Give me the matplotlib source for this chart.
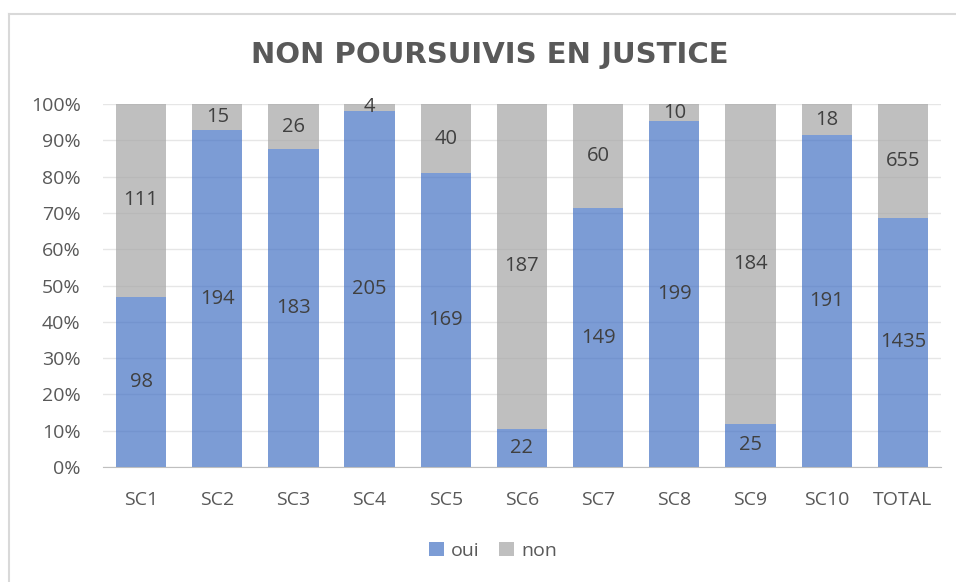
import matplotlib.pyplot as plt
from matplotlib.lines import Line2D

categories = ['SC1', 'SC2', 'SC3', 'SC4', 'SC5', 'SC6', 'SC7', 'SC8', 'SC9', 'SC10', 'TOTAL']
oui = [98, 194, 183, 205, 169, 22, 149, 199, 25, 191, 1435]
non = [111, 15, 26, 4, 40, 187, 60, 10, 184, 18, 655]

plt.rcParams['font.family'] = ['Open Sans', 'DejaVu Sans']

totals = [a + b for a, b in zip(oui, non)]
p_oui = [a / t for a, t in zip(oui, totals)]
p_non = [b / t for b, t in zip(non, totals)]

fig = plt.figure(figsize=(9.56, 5.82), dpi=100)
ax = fig.add_axes([0.1077, 0.1976, 0.8766, 0.6237])

x = range(len(categories))
b1 = ax.bar(x, p_oui, width=0.66, color='#4472C4', alpha=0.7, label='oui', zorder=2)
b2 = ax.bar(x, p_non, width=0.66, bottom=p_oui, color='#A5A5A5', alpha=0.7, label='non', zorder=2)

# counts centred in each segment
for i in x:
    ax.text(i, p_oui[i] / 2, str(oui[i]), ha='center', va='center',
            fontsize=14.5, color='#404040', zorder=3)
    ax.text(i, p_oui[i] + p_non[i] / 2, str(non[i]), ha='center', va='center',
            fontsize=14.5, color='#404040', zorder=3)

ax.set_xlim(-0.5, len(categories) - 0.5)
ax.set_ylim(0, 1)
ax.set_yticks([i / 10 for i in range(11)])
ax.set_yticklabels([f'{i * 10}%' for i in range(11)])
ax.set_xticks(list(x))
ax.set_xticklabels(categories)
ax.tick_params(axis='both', length=0, labelsize=14, labelcolor='#595959')
ax.tick_params(axis='x', pad=17)
ax.tick_params(axis='y', pad=16)
ax.yaxis.grid(True, color='#E6E6E6', linewidth=1, zorder=0)
ax.set_axisbelow(True)
for s in ['top', 'right', 'left']:
    ax.spines[s].set_visible(False)
ax.spines['bottom'].set_color('#BFBFBF')

fig.text(0.512, 0.905, 'NON POURSUIVIS EN JUSTICE', ha='center', va='center',
         fontsize=21, fontweight='bold', color='#595959', family='DejaVu Sans')

fig.legend(handles=[b1, b2], labels=['oui', 'non'], loc='center', bbox_to_anchor=(0.516, 0.054),
           ncol=2, frameon=False, fontsize=14, labelcolor='#595959',
           handlelength=0.75, handleheight=0.75, handletextpad=0.4, columnspacing=1.0)

# chart frame
fig.add_artist(Line2D([9 / 956, 9 / 956], [0, 1 - 14 / 582], color='#D9D9D9', linewidth=1.5))
fig.add_artist(Line2D([9 / 956, 1], [1 - 14 / 582, 1 - 14 / 582], color='#D9D9D9', linewidth=1.5))

fig.savefig('out.png', dpi=100)
